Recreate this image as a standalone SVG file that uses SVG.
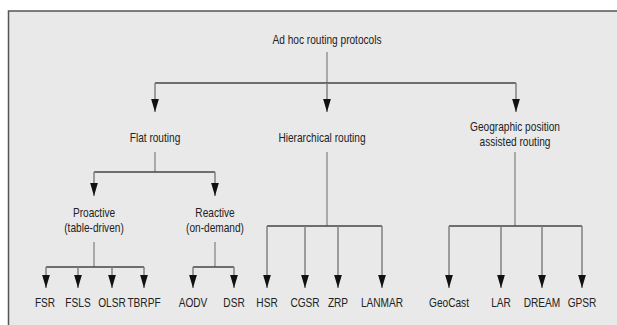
<svg xmlns="http://www.w3.org/2000/svg" width="617" height="325" viewBox="0 0 617 325">
<style>
text{font-family:"Liberation Sans",Arial,sans-serif;font-size:13.5px;fill:#222;text-anchor:middle}
.ln{stroke:#444;stroke-width:1.3;fill:none}
.st{stroke:#888;stroke-width:1.3;fill:none}
.ar{stroke:#808080;stroke-width:1.5;fill:none;marker-end:url(#ah)}
</style>
<defs>
<marker id="ah" markerUnits="userSpaceOnUse" markerWidth="14" markerHeight="9" refX="13.5" refY="4.5" orient="auto" viewBox="0 0 14 9">
<path d="M0,0.5 L13.5,4.5 L0,8.5 Z" fill="#111"/>
</marker>
</defs>
<rect x="8.5" y="11" width="620" height="330" fill="#e9e9e9" stroke="#555" stroke-width="1.5"/>
<g id="connectors">
<path class="st" d="M327,52 V83"/>
<path class="ln" d="M155,83 H516"/>
<path class="ar" d="M155,83 V112"/>
<path class="ar" d="M327,83 V112"/>
<path class="ar" d="M516,83 V112"/>
<path class="st" d="M155,152 V172"/>
<path class="ln" d="M94,172 H215"/>
<path class="ar" d="M94,172 V196"/>
<path class="ar" d="M215,172 V196"/>
<path class="st" d="M94,242 V267"/>
<path class="ln" d="M46,267 H144"/>
<path class="ar" d="M46,267 V288"/>
<path class="ar" d="M78,267 V288"/>
<path class="ar" d="M112,267 V288"/>
<path class="ar" d="M144,267 V288"/>
<path class="st" d="M215,242 V267"/>
<path class="ln" d="M193,267 H234"/>
<path class="ar" d="M193,267 V288"/>
<path class="ar" d="M234,267 V288"/>
<path class="st" d="M327,152 V226"/>
<path class="ln" d="M267,226 H382"/>
<path class="ar" d="M267,226 V288"/>
<path class="ar" d="M305,226 V288"/>
<path class="ar" d="M338,226 V288"/>
<path class="ar" d="M382,226 V288"/>
<path class="st" d="M515,152 V226"/>
<path class="ln" d="M449,226 H582"/>
<path class="ar" d="M449,226 V288"/>
<path class="ar" d="M501,226 V288"/>
<path class="ar" d="M542,226 V288"/>
<path class="ar" d="M582,226 V288"/>
</g>
<g id="root"><text transform="translate(327,44) scale(0.75,1)">Ad hoc routing protocols</text></g>
<g id="flat"><text transform="translate(155,142) scale(0.75,1)">Flat routing</text></g>
<g id="hier"><text transform="translate(322,142) scale(0.75,1)">Hierarchical routing</text></g>
<g id="geo"><text transform="translate(515,131) scale(0.75,1)">Geographic position</text><text transform="translate(515,146) scale(0.75,1)">assisted routing</text></g>
<g id="proactive"><text transform="translate(94,217) scale(0.75,1)">Proactive</text><text transform="translate(94,232) scale(0.75,1)">(table-driven)</text></g>
<g id="reactive"><text transform="translate(215,217) scale(0.75,1)">Reactive</text><text transform="translate(215,232) scale(0.75,1)">(on-demand)</text></g>
<g id="fsr"><text transform="translate(45,307) scale(0.75,1)">FSR</text></g>
<g id="fsls"><text transform="translate(78,307) scale(0.75,1)">FSLS</text></g>
<g id="olsr"><text transform="translate(112,307) scale(0.75,1)">OLSR</text></g>
<g id="tbrpf"><text transform="translate(144,307) scale(0.75,1)">TBRPF</text></g>
<g id="aodv"><text transform="translate(193,307) scale(0.75,1)">AODV</text></g>
<g id="dsr"><text transform="translate(234,307) scale(0.75,1)">DSR</text></g>
<g id="hsr"><text transform="translate(267,307) scale(0.75,1)">HSR</text></g>
<g id="cgsr"><text transform="translate(305,307) scale(0.75,1)">CGSR</text></g>
<g id="zrp"><text transform="translate(338,307) scale(0.75,1)">ZRP</text></g>
<g id="lanmar"><text transform="translate(382,307) scale(0.75,1)">LANMAR</text></g>
<g id="geocast"><text transform="translate(449,307) scale(0.75,1)">GeoCast</text></g>
<g id="lar"><text transform="translate(501,307) scale(0.75,1)">LAR</text></g>
<g id="dream"><text transform="translate(542,307) scale(0.75,1)">DREAM</text></g>
<g id="gpsr"><text transform="translate(582,307) scale(0.75,1)">GPSR</text></g>
</svg>
